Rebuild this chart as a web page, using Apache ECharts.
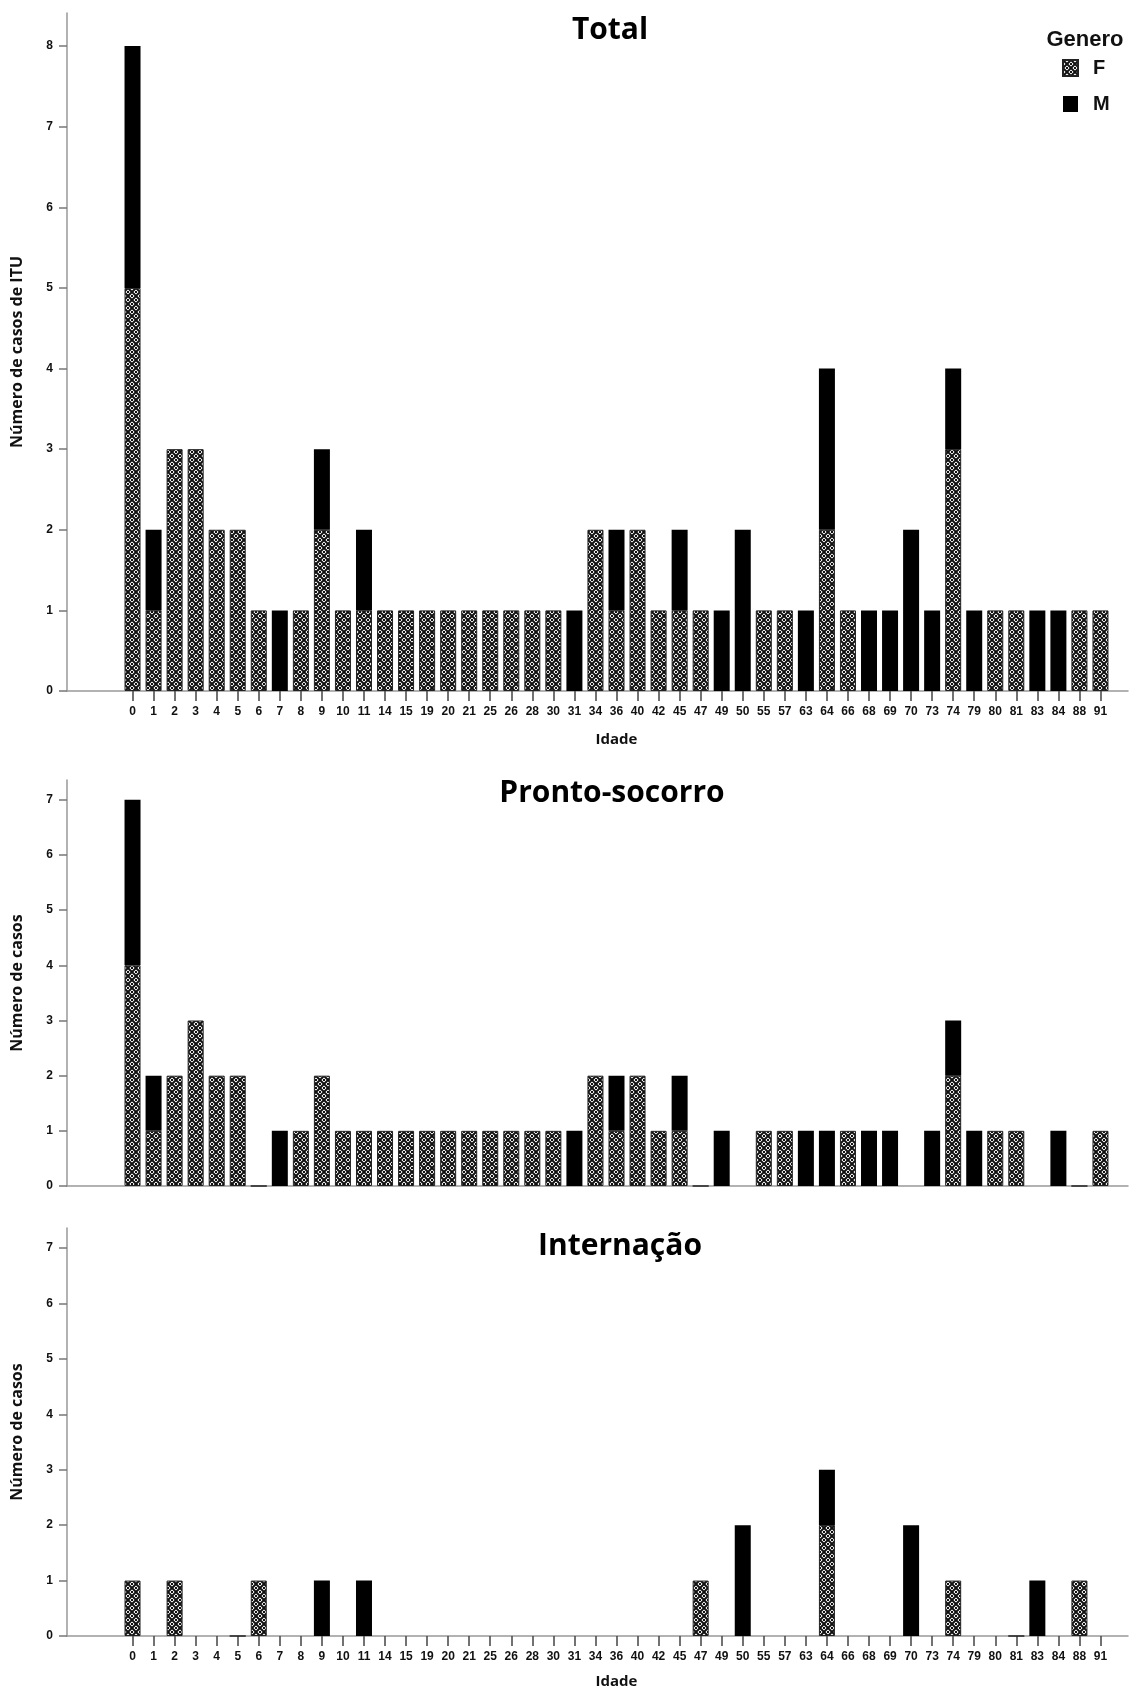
<!DOCTYPE html>
<html>
<head>
<meta charset="utf-8">
<script src="https://cdn.jsdelivr.net/npm/echarts@6/dist/echarts.min.js"></script>
<style>
html, body { margin: 0; padding: 0; background: #fff; }
#main { width: 1136px; height: 1690px; }
</style>
</head>
<body>
<div id="main"></div>
<script>
// idades (eixo x), iguais nos tres paineis
var categories = ['0','1','2','3','4','5','6','7','8','9','10','11','14','15','19','20','21','25','26','28','30','31','34','36','40','42','45','47','49','50','55','57','63','64','66','68','69','70','73','74','79','80','81','83','84','88','91'];

// Total
var totalF = [5,1,3,3,2,2,1,null,1,2,1,1, 1,1,1,1,1,1,1,1,1, null,2,1,2,1,1,1,null,null,1,1,null,2,1,null,null,null,null,3,null,1,1,null,null,1,1];
var totalM = [3,1,null,null,null,null,null,1,null,1,null,1, null,null,null,null,null,null,null,null,null, 1,null,1,null,null,1,null,1,2,null,null,1,2,null,1,1,2,1,1,1,null,null,1,1,null,null];

// Pronto-socorro
var prontoF = [4,1,2,3,2,2,0,null,1,2,1,1, 1,1,1,1,1,1,1,1,1, null,2,1,2,1,1,0,null,null,1,1,null,null,1,null,null,null,null,2,null,1,1,null,null,0,1];
var prontoM = [3,1,null,null,null,null,null,1,null,null,null,null, null,null,null,null,null,null,null,null,null, 1,null,1,null,null,1,null,1,null,null,null,1,1,null,1,1,null,1,1,1,null,null,null,1,null,null];

// Internacao
var internF = [1,null,1,null,null,0,1,null,null,null,null,null, null,null,null,null,null,null,null,null,null, null,null,null,null,null,null,1,null,null,null,null,null,2,null,null,null,null,null,1,null,null,0,null,null,1,null];
var internM = [null,null,null,null,null,null,null,null,null,1,null,1, null,null,null,null,null,null,null,null,null, null,null,null,null,null,null,null,null,2,null,null,null,1,null,null,null,2,null,null,null,null,null,1,null,null,null];

var yTicksTotal = [0,1,2,3,4,5,6,7,8];
var yTicksCasos = [0,1,2,3,4,5,6,7];
var genders = ['F', 'M'];

var myChart = echarts.init(document.getElementById('main'));

// hachura do F (losangos com pontos)
function makePattern() {
  var c = document.createElement('canvas');
  c.width = 8;
  c.height = 8;
  var g = c.getContext('2d');
  g.fillStyle = '#ffffff';
  g.fillRect(0, 0, 8, 8);
  g.strokeStyle = '#111';
  g.lineWidth = 2;
  g.beginPath();
  g.moveTo(0, 0); g.lineTo(8, 8);
  g.moveTo(8, 0); g.lineTo(0, 8);
  g.stroke();
  g.fillStyle = '#111';
  [[4,0],[0,4],[8,4],[4,8]].forEach(function(p) {
    g.fillRect(p[0] - 1, p[1] - 1, 2, 2);
  });
  return c;
}
var pattern = makePattern();

var tickFont = { fontFamily: 'Liberation Sans', fontWeight: 'bold', fontSize: 12, color: '#111' };
var nameFont = { fontFamily: 'Open Sans', fontWeight: 'bold', fontSize: 16, color: '#111' };

var panels = [
  { title: 'Total', F: totalF, M: totalM, top: 13, height: 678, max: 8.41, ticks: yTicksTotal,
    yName: 'Número de casos de ITU', showX: true, xGap: 41, titleX: 610, titleTop: 15 },
  { title: 'Pronto-socorro', F: prontoF, M: prontoM, top: 780, height: 406, max: 7.36, ticks: yTicksCasos,
    yName: 'Número de casos', showX: false, xGap: 41, titleX: 612, titleTop: 778 },
  { title: 'Internação', F: internF, M: internM, top: 1228, height: 408, max: 7.36, ticks: yTicksCasos,
    yName: 'Número de casos', showX: true, xGap: 38, titleX: 620, titleTop: 1231 }
];

var grids = [], xAxes = [], yAxes = [], series = [], titles = [];

panels.forEach(function(p, k) {
  var a = 2 * k, b = 2 * k + 1;
  // grid a: eixo y visivel + linha de base inteira
  grids.push({ left: 67, right: 8, top: p.top, height: p.height, containLabel: false, outerBoundsMode: 'none' });
  // grid b: barras
  grids.push({ left: 122, right: 25, top: p.top, height: p.height, containLabel: false, outerBoundsMode: 'none' });

  xAxes.push({
    gridIndex: a, type: 'value', min: 0, max: 1,
    axisLine: { show: true, lineStyle: { color: '#999', width: 1.5 } },
    axisTick: { show: false }, axisLabel: { show: false }, splitLine: { show: false }
  });
  xAxes.push({
    gridIndex: b, type: 'category', data: categories,
    axisLine: { show: false },
    axisTick: { show: p.showX, alignWithLabel: true, length: 10, lineStyle: { color: '#444', width: 1.5 } },
    axisLabel: Object.assign({ show: p.showX, interval: 0, margin: 15 }, tickFont),
    splitLine: { show: false },
    name: p.showX ? 'Idade' : '', nameLocation: 'middle', nameGap: p.xGap,
    nameTextStyle: Object.assign({}, nameFont, { fontSize: 15 })
  });

  yAxes.push({
    gridIndex: a, type: 'value', min: 0, max: p.max, interval: 1,
    axisLine: { show: true, lineStyle: { color: '#999', width: 1.5 } },
    axisTick: { show: true, length: 8, customValues: p.ticks, lineStyle: { color: '#777', width: 1.5 } },
    axisLabel: Object.assign({ customValues: p.ticks, margin: 14 }, tickFont),
    splitLine: { show: false },
    name: p.yName, nameLocation: 'middle', nameGap: 42, nameRotate: 90,
    nameTextStyle: nameFont
  });
  yAxes.push({ gridIndex: b, type: 'value', min: 0, max: p.max, show: false });

  series.push({
    name: 'F', type: 'bar', xAxisIndex: b, yAxisIndex: b, stack: 's' + k,
    data: p.F, barWidth: 16,
    itemStyle: { color: { image: pattern, repeat: 'repeat' }, borderColor: '#222', borderWidth: 1 }
  });
  series.push({
    name: 'M', type: 'bar', xAxisIndex: b, yAxisIndex: b, stack: 's' + k,
    data: p.M, barWidth: 16,
    itemStyle: { color: '#000' }
  });

  titles.push({
    text: p.title, left: p.titleX, top: p.titleTop, textAlign: 'center', padding: 0,
    textStyle: { fontFamily: 'Open Sans', fontWeight: 'bold', fontSize: 30, color: '#000' }
  });
});

titles.push({
  text: 'Genero', left: 1085, top: 29, textAlign: 'center', padding: 0,
  textStyle: { fontFamily: 'Liberation Sans', fontWeight: 'bold', fontSize: 22, color: '#111' }
});

var option = {
  animation: false,
  backgroundColor: '#fff',
  title: titles,
  legend: {
    data: genders,
    orient: 'vertical',
    left: 1062, top: 58,
    icon: 'rect',
    itemWidth: 15, itemHeight: 16, itemGap: 16,
    padding: 0,
    selectedMode: false,
    textStyle: { fontFamily: 'Liberation Sans', fontWeight: 'bold', fontSize: 20, color: '#111', padding: [0, 0, 0, 10] }
  },
  grid: grids,
  xAxis: xAxes,
  yAxis: yAxes,
  series: series
};

myChart.setOption(option);
</script>
</body>
</html>
